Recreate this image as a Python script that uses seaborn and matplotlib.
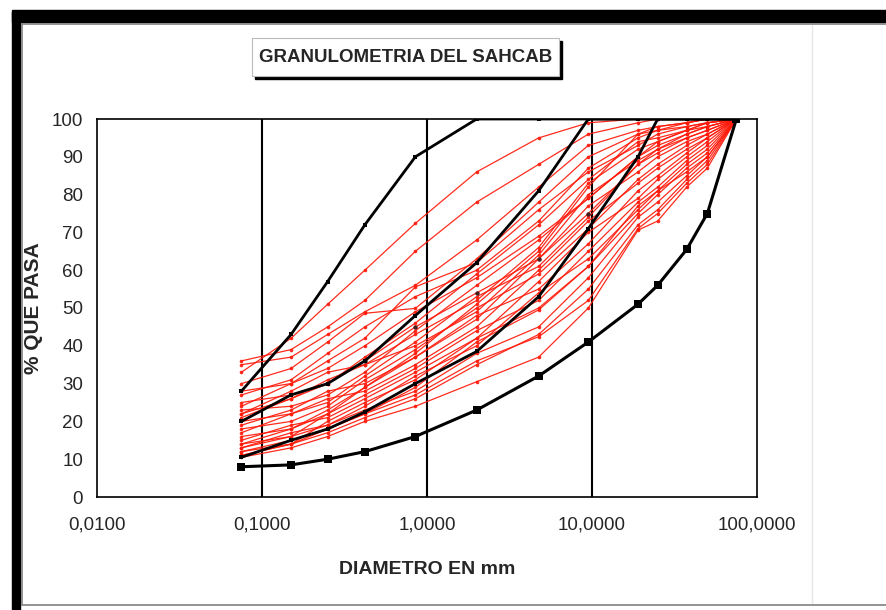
import matplotlib
matplotlib.use("Agg")
import matplotlib.pyplot as plt
from matplotlib.patches import Rectangle
from matplotlib.lines import Line2D
import seaborn as sns
import pandas as pd
import numpy as np

sns.set_style("white")
plt.rcParams['font.family'] = ['Liberation Sans', 'DejaVu Sans']

# sieve sizes (mm)
sizes = [0.075, 0.15, 0.25, 0.42, 0.85, 2.0, 4.75, 9.5, 19.0, 25.0, 37.5, 50.0, 75.0]

# black limit curves
lim_a = [28, 43, 57, 72, 90, 100, 100, 100, 100, 100, 100, 100, 100]
lim_b = [20, 27, 30, 36, 48, 62, 81, 100, 100, 100, 100, 100, 100]
lim_c = [10.5, 15, 18, 22.5, 30, 38.5, 53, 71, 90, 100, 100, 100, 100]
lim_d = [8, 8.5, 10, 12, 16, 23, 32, 41, 51, 56, 65.5, 75, 100]

# red sample curves
r01 = [33, 42, 51, 60, 72.4, 86, 95, 99, 100, 100, 100, 100, 100]
r02 = [36, 39, 45, 52, 65, 78, 88, 96, 99, 100, 100, 100, 100]
r03 = [35, 37, 43, 49, 56, 68, 82, 93, 97, 98, 99, 100, 100]
r04 = [30, 34, 41, 48.6, 49.9, 63, 78, 90, 96, 97, 99, 100, 100]
r05 = [27, 31, 38, 45, 53, 60, 73, 87, 95, 97, 98, 99, 100]
r06 = [24, 30, 36, 42, 55.6, 62, 76, 86, 93, 96, 98, 99, 100]
r07 = [25, 27, 30, 37, 46, 59, 72, 84, 94, 95, 97, 99, 100]
r08 = [22, 28, 33, 35, 43, 52, 66, 83, 92, 94, 97, 98, 100]
r09 = [23, 24, 27, 33, 44, 56, 68, 79, 90, 93, 96, 98, 100]
r10 = [21, 26, 31, 35, 40, 49, 64, 80, 89, 92, 95, 97, 100]
r11 = [20, 22, 25, 32, 41, 53, 61, 74, 88, 91, 95, 97, 100]
r12 = [19, 23, 28, 30, 37, 47, 63, 77, 86, 90, 94, 96, 100]
r13 = [18, 20, 24, 31, 39, 50, 59, 71, 84, 88, 93, 96, 100]
r14 = [17, 22, 26, 28, 35, 45, 60, 73, 83, 87, 92, 95, 100]
r15 = [16, 18, 22, 29, 37, 48, 55, 67, 81, 85, 91, 95, 100]
r16 = [15, 19, 21, 26, 33, 42, 57, 70, 79, 84, 90, 94, 100]
r17 = [14, 16, 22, 27, 34, 44, 52, 65, 78, 82, 89, 93, 100]
r18 = [13, 17, 19, 24, 32, 40, 54, 63, 76, 81, 88, 92, 100]
r19 = [12, 14, 20, 25, 31, 42, 50, 61, 75, 80, 87, 91, 100]
r20 = [11, 14, 17, 21, 26, 35, 43, 55, 72, 76, 84, 89, 100]
r21 = [10.5, 13, 16, 20, 24, 30.5, 37, 50, 70.6, 73, 82, 87, 100]
r22 = [12, 15, 18, 22, 27, 36, 42.4, 52, 71, 75, 83, 88, 100]
r23 = [13, 16, 19, 23, 28, 38, 45, 58, 74, 78, 85, 90, 100]
r24 = [11, 14, 18, 22, 29, 41, 49.5, 61, 77, 81, 86, 90, 100]
r25 = [22, 26, 30, 36, 45, 54, 63, 75, 88, 92, 96, 98, 100]
r26 = [28, 30, 34, 40, 49, 58, 69, 79, 90, 94, 97, 99, 100]
r27 = [14, 18, 23, 29, 38, 51, 65, 82, 96, 98, 99, 100, 100]

red_curves = [r01, r02, r03, r04, r05, r06, r07, r08, r09, r10, r11, r12, r13,
              r14, r15, r16, r17, r18, r19, r20, r21, r22, r23, r24, r25,
              r26, r27]

x_ticks = [0.01, 0.1, 1, 10, 100]
x_tick_labels = ["0,0100", "0,1000", "1,0000", "10,0000", "100,0000"]
y_ticks = list(range(0, 101, 10))

# long-form tables
red_df = pd.DataFrame({
    "size": np.tile(sizes, len(red_curves)),
    "pasa": np.concatenate(red_curves),
    "curva": np.repeat(np.arange(len(red_curves)), len(sizes)),
})
lim_df = pd.DataFrame({
    "size": np.tile(sizes, 3),
    "pasa": np.concatenate([lim_a, lim_b, lim_c]),
    "curva": np.repeat(["A", "B", "C"], len(sizes)),
})
low_df = pd.DataFrame({"size": sizes, "pasa": lim_d})
dark_df = pd.DataFrame({"size": sizes[3:8], "pasa": r25[3:8]})

W, H = 887, 610
fig = plt.figure(figsize=(W / 100, H / 100), dpi=100)
fig.patch.set_facecolor("white")

def fx(px):
    return px / W
def fy(py):
    return 1 - py / H

# frame decorations
fig.add_artist(Rectangle((fx(12), fy(22)), fx(887) - fx(12), 12 / H,
                         transform=fig.transFigure, color="black", zorder=0))
fig.add_artist(Rectangle((fx(12), 0), 8 / W, fy(12),
                         transform=fig.transFigure, color="black", zorder=0))
fig.add_artist(Rectangle((fx(22), fy(605)), fx(887) - fx(22), (605 - 24) / H,
                         transform=fig.transFigure, fill=False, ec="#808080",
                         lw=1.2, zorder=0))
fig.add_artist(Line2D([fx(812), fx(812)], [fy(25), fy(603)],
                      transform=fig.transFigure, color="#e6e6e6", lw=1, zorder=0))

# title box with shadow
fig.add_artist(Rectangle((fx(255), fy(79)), 307 / W, 38 / H,
                         transform=fig.transFigure, color="black", zorder=1))
fig.add_artist(Rectangle((fx(252), fy(76)), 307 / W, 38 / H,
                         transform=fig.transFigure, fc="white", ec="#bbbbbb",
                         lw=0.8, zorder=2))
fig.text(fx(406), fy(57), "GRANULOMETRIA DEL SAHCAB", ha="center", va="center",
         fontsize=13.5, fontweight="bold", zorder=3)

ax = fig.add_axes([fx(97), fy(497), 660 / W, 378 / H])
ax.set_facecolor("white")

for xv in [0.1, 1, 10]:
    ax.axvline(xv, color="black", lw=1.5, zorder=1.5)

sns.lineplot(data=red_df, x="size", y="pasa", units="curva", estimator=None,
             sort=False, color="#ff1a0a", lw=0.9, marker="o", markersize=2.6,
             markeredgewidth=0, alpha=0.92, ax=ax, legend=False, zorder=3)
sns.scatterplot(data=dark_df, x="size", y="pasa", color="#402020", s=10,
                linewidth=0, ax=ax, legend=False, zorder=4)
sns.lineplot(data=lim_df, x="size", y="pasa", units="curva", estimator=None,
             sort=False, color="black", lw=2.0, marker="s", markersize=3.5,
             markeredgewidth=0, ax=ax, legend=False, zorder=4)
sns.lineplot(data=low_df, x="size", y="pasa", estimator=None, sort=False,
             color="black", lw=2.2, marker="s", markersize=5.5,
             markeredgewidth=0, ax=ax, legend=False, zorder=4)

ax.set_xscale("log")
ax.set_xlim(0.01, 100)
ax.set_ylim(0, 100)
ax.set_xticks(x_ticks)
ax.set_xticklabels(x_tick_labels)
ax.xaxis.set_minor_locator(matplotlib.ticker.NullLocator())
ax.set_yticks(y_ticks)
ax.tick_params(axis="both", which="major", direction="out", length=4,
               width=1, color="black", labelsize=13.5, pad=6)
ax.tick_params(axis="x", pad=10)
for s in ax.spines.values():
    s.set_color("black")
    s.set_linewidth(1.2)
    s.set_visible(True)

ax.set_xlabel("DIAMETRO EN mm", fontsize=14, fontweight="bold", labelpad=20)
ax.set_ylabel("% QUE PASA", fontsize=15, fontweight="bold", labelpad=6)

fig.savefig("out.png", dpi=100, facecolor="white")
